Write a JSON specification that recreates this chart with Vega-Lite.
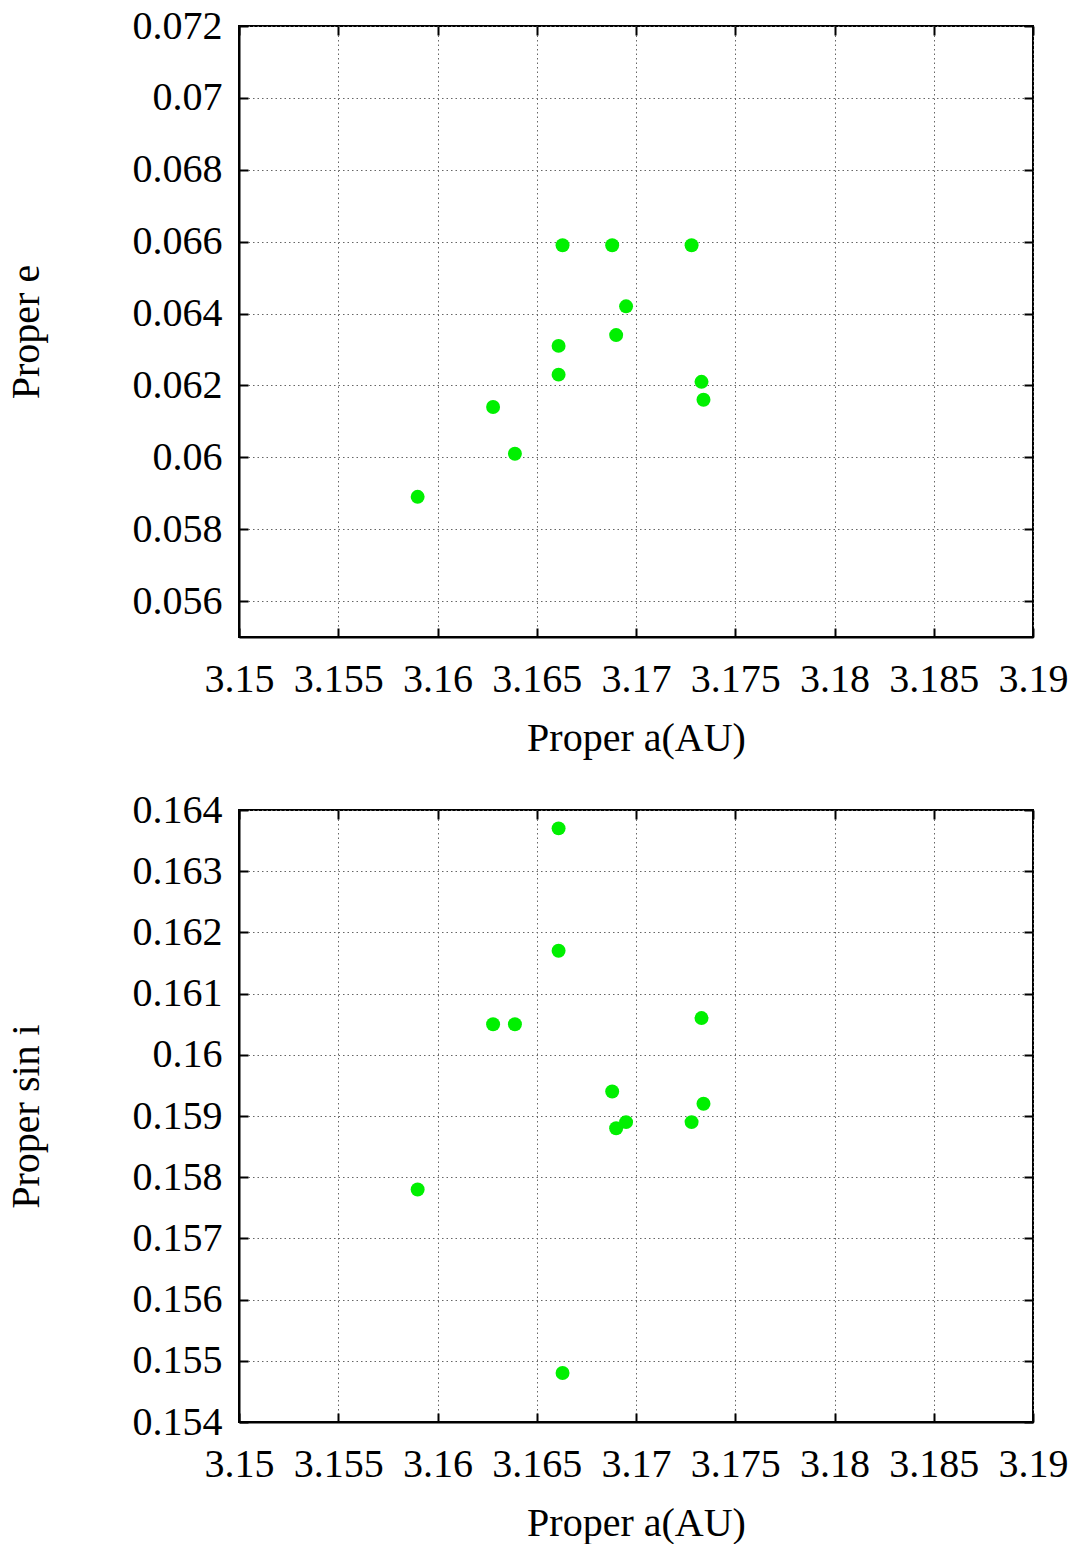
{
  "$schema": "https://vega.github.io/schema/vega-lite/v6.json",
  "padding": {"left": 5, "top": 5, "right": 0, "bottom": 0},
  "background": "white",
  "data": {"values": [
    {"a": 3.1590, "e": 0.0589, "sini": 0.1578},
    {"a": 3.1628, "e": 0.0614, "sini": 0.1605},
    {"a": 3.1639, "e": 0.0601, "sini": 0.1605},
    {"a": 3.1661, "e": 0.0623, "sini": 0.1637},
    {"a": 3.1661, "e": 0.0631, "sini": 0.1617},
    {"a": 3.1663, "e": 0.0659, "sini": 0.1548},
    {"a": 3.1688, "e": 0.0659, "sini": 0.1594},
    {"a": 3.1690, "e": 0.0634, "sini": 0.1588},
    {"a": 3.1695, "e": 0.0642, "sini": 0.1589},
    {"a": 3.1728, "e": 0.0659, "sini": 0.1589},
    {"a": 3.1733, "e": 0.0621, "sini": 0.1606},
    {"a": 3.1734, "e": 0.0616, "sini": 0.1592}
  ]},
  "spacing": 173,
  "bounds": "flush",
  "vconcat": [
    {
      "width": 794,
      "height": 611,
      "resolve": {"axis": {"x": "independent", "y": "independent"}},
      "layer": [
        {
          "mark": {"type": "circle", "size": 195, "color": "#00f000", "opacity": 1},
          "encoding": {
            "x": {"field": "a", "type": "quantitative", "title": "Proper a(AU)",
                  "scale": {"domain": [3.15, 3.19], "nice": false, "zero": false},
                  "axis": {"values": [3.15, 3.155, 3.16, 3.165, 3.17, 3.175, 3.18, 3.185, 3.19], "format": "~g", "orient": "bottom"}},
            "y": {"field": "e", "type": "quantitative", "title": "Proper e",
                  "scale": {"domain": [0.055, 0.072], "nice": false, "zero": false},
                  "axis": {"values": [0.056, 0.058, 0.06, 0.062, 0.064, 0.066, 0.068, 0.07, 0.072], "format": "~g", "orient": "left"}}
          }
        },
        {
          "mark": {"type": "circle", "opacity": 0},
          "encoding": {
            "x": {"field": "a", "type": "quantitative",
                  "axis": {"values": [3.15, 3.155, 3.16, 3.165, 3.17, 3.175, 3.18, 3.185, 3.19], "orient": "top", "labels": false, "grid": false, "title": null, "domain": false}},
            "y": {"field": "e", "type": "quantitative",
                  "axis": {"values": [0.056, 0.058, 0.06, 0.062, 0.064, 0.066, 0.068, 0.07, 0.072], "orient": "right", "labels": false, "grid": false, "title": null, "domain": false}}
          }
        }
      ]
    },
    {
      "width": 794,
      "height": 612,
      "resolve": {"axis": {"x": "independent", "y": "independent"}},
      "layer": [
        {
          "mark": {"type": "circle", "size": 195, "color": "#00f000", "opacity": 1},
          "encoding": {
            "x": {"field": "a", "type": "quantitative", "title": "Proper a(AU)",
                  "scale": {"domain": [3.15, 3.19], "nice": false, "zero": false},
                  "axis": {"values": [3.15, 3.155, 3.16, 3.165, 3.17, 3.175, 3.18, 3.185, 3.19], "format": "~g", "orient": "bottom"}},
            "y": {"field": "sini", "type": "quantitative", "title": "Proper sin i",
                  "scale": {"domain": [0.154, 0.164], "nice": false, "zero": false},
                  "axis": {"values": [0.154, 0.155, 0.156, 0.157, 0.158, 0.159, 0.16, 0.161, 0.162, 0.163, 0.164], "format": "~g", "orient": "left"}}
          }
        },
        {
          "mark": {"type": "circle", "opacity": 0},
          "encoding": {
            "x": {"field": "a", "type": "quantitative",
                  "axis": {"values": [3.15, 3.155, 3.16, 3.165, 3.17, 3.175, 3.18, 3.185, 3.19], "orient": "top", "labels": false, "grid": false, "title": null, "domain": false}},
            "y": {"field": "sini", "type": "quantitative",
                  "axis": {"values": [0.154, 0.155, 0.156, 0.157, 0.158, 0.159, 0.16, 0.161, 0.162, 0.163, 0.164], "orient": "right", "labels": false, "grid": false, "title": null, "domain": false}}
          }
        }
      ]
    }
  ],
  "config": {
    "font": "Liberation Serif",
    "view": {"stroke": "black", "strokeWidth": 2},
    "axis": {
      "labelFont": "Liberation Serif",
      "titleFont": "Liberation Serif",
      "labelFontSize": 40,
      "titleFontSize": 40,
      "titleFontWeight": "normal",
      "labelColor": "black",
      "titleColor": "black",
      "domainColor": "black",
      "domainWidth": 2,
      "tickColor": "black",
      "tickWidth": 2,
      "tickSize": -9,
      "gridColor": "#666666",
      "gridWidth": 1,
      "gridDash": [1.5, 3],
      "labelFlush": false,
      "labelOverlap": false
    },
    "axisBottom": {"labelPadding": 31, "titlePadding": 19},
    "axisLeft": {"labelPadding": 26, "titlePadding": 86}
  }
}
